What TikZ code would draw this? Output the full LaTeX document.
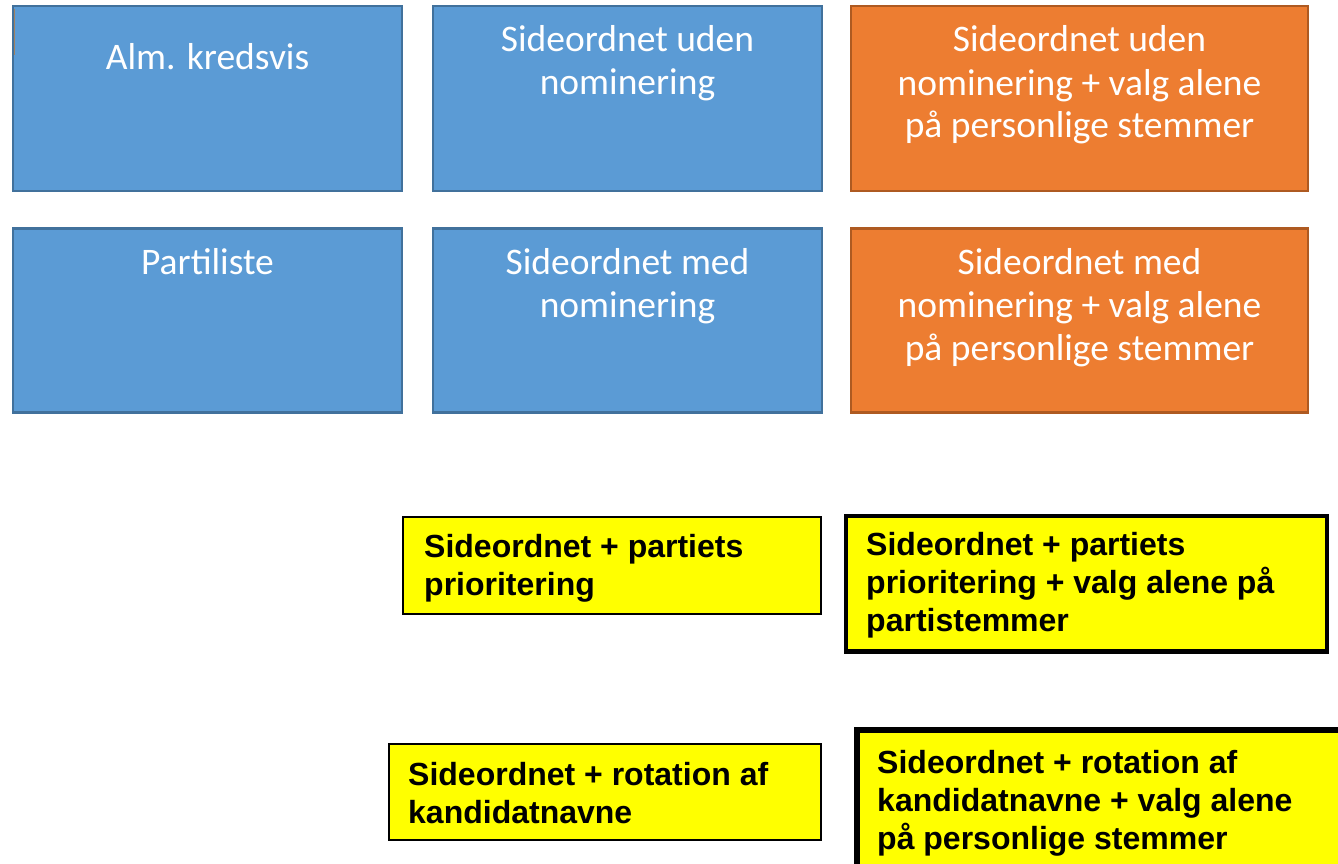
\documentclass[tikz,border=0pt]{standalone}
\usepackage{fontspec}
\newfontfamily\calib{Carlito}
\newfontfamily\arialb{Liberation Sans}[BoldFont={Liberation Sans Bold}]
\definecolor{bfill}{HTML}{5B9BD5}
\definecolor{bdraw}{HTML}{41719C}
\definecolor{ofill}{HTML}{ED7D31}
\definecolor{odraw}{HTML}{AE5A21}
\definecolor{yfill}{HTML}{FFFF00}
\definecolor{artef}{HTML}{A08060}
\tikzset{
  bluebox/.style={draw=bdraw, fill=bfill, line width=2.5pt, inner sep=0pt},
  orangebox/.style={draw=odraw, fill=ofill, line width=2.5pt, inner sep=0pt},
  yelthin/.style={draw=black, fill=yfill, line width=2pt, inner sep=0pt},
  yelthick/.style={draw=black, fill=yfill, line width=4.5pt, inner sep=0pt},
  yelthicker/.style={draw=black, fill=yfill, line width=6.5pt, inner sep=0pt},
  boxtext/.style={text=white, font=\calib\fontsize{37.5}{43}\selectfont, align=center, inner sep=0pt, anchor=base},
  ytext/.style={text=black, font=\arialb\bfseries\fontsize{32}{38}\selectfont, align=left, inner sep=0pt, anchor=base west},
}
\begin{document}
\begin{tikzpicture}[x=1pt,y=-1pt]
\useasboundingbox (0,0) rectangle (1338,864);
% top row
\node[bluebox, minimum width=389pt, minimum height=185pt] (b11) at (207.5,98.5) {};
\node[bluebox, minimum width=389pt, minimum height=185pt] (b12) at (627.5,98.5) {};
\node[orangebox, minimum width=457pt, minimum height=185pt] (b13) at (1079.5,98.5) {};
% second row
\node[bluebox, minimum width=389pt, minimum height=184pt] (b21) at (207.5,320.5) {};
\node[bluebox, minimum width=389pt, minimum height=184pt] (b22) at (627.5,320.5) {};
\node[orangebox, minimum width=457pt, minimum height=184pt] (b23) at (1079.5,320.5) {};
% small artefact line
\coordinate (a1) at (14.5,9);
\coordinate (a2) at (14.5,55);
\draw[artef, line width=1pt] (a1) -- (a2);
% texts (anchor = baseline of the last line)
\node[boxtext] (t11) at (207.5,70) {Alm. kredsvis};
\node[boxtext] (t12) at (627.5,95) {Sideordnet uden\\nominering};
\node[boxtext] (t13) at (1079.5,138) {Sideordnet uden\\nominering + valg alene\\på personlige stemmer};
\node[boxtext] (t21) at (207.5,274) {Partiliste};
\node[boxtext] (t22) at (627.5,317) {Sideordnet med\\nominering};
\node[boxtext] (t23) at (1079.5,360) {Sideordnet med\\nominering + valg alene\\på personlige stemmer};
% yellow boxes
\node[yelthin, minimum width=418pt, minimum height=97pt] (y1) at (612,565) {};
\node[yelthick, minimum width=481pt, minimum height=135.5pt] (y2) at (1086.25,583.75) {};
\node[yelthin, minimum width=432.5pt, minimum height=96.5pt] (y3) at (604.75,791.75) {};
\node[yelthicker, minimum width=500pt, minimum height=160pt] (y4) at (1107,810) {};
\node[ytext] (yt1) at (424,595) {Sideordnet + partiets\\prioritering};
\node[ytext] (yt2) at (866,631) {Sideordnet + partiets\\prioritering + valg alene på\\partistemmer};
\node[ytext] (yt3) at (408,823) {Sideordnet + rotation af\\kandidatnavne};
\node[ytext] (yt4) at (877,849) {Sideordnet + rotation af\\kandidatnavne + valg alene\\på personlige stemmer};
\end{tikzpicture}
\end{document}
